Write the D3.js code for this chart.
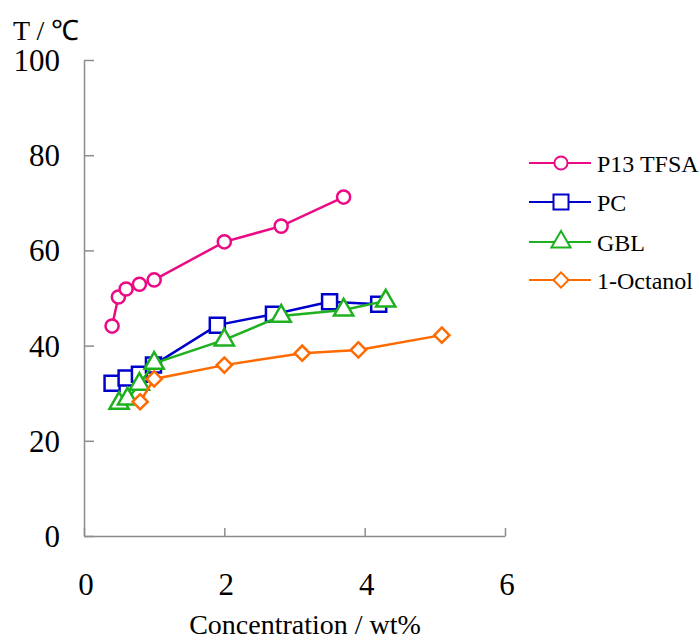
<!DOCTYPE html>
<head>
  <meta charset="utf-8">
  <script src="https://d3js.org/d3.v7.min.js"></script>
  <style>
    body { margin:0; background:#fff; }
    .axis path, .axis line { stroke:#8c8c8c; stroke-width:1.5; }
  </style>
</head>
<body>
<script>
// data
var seriesNames = ["P13 TFSA", "PC", "GBL", "1-Octanol"];
var p13X = [0.4, 0.49, 0.6, 0.79, 1.0, 2.0, 2.81, 3.7];
var p13Y = [44.1, 50.2, 51.9, 52.9, 53.8, 61.8, 65.1, 71.2];
var pcX = [0.4, 0.6, 0.79, 0.99, 1.9, 2.7, 3.5, 4.2];
var pcY = [32.1, 33.2, 34.0, 35.9, 44.3, 46.6, 49.2, 48.7];
var gblX = [0.5, 0.62, 0.79, 1.0, 2.0, 2.81, 3.7, 4.3];
var gblY = [27.9, 28.8, 31.9, 36.3, 41.2, 46.2, 47.5, 49.4];
var octX = [0.8, 1.0, 2.0, 3.11, 3.91, 5.1];
var octY = [28.2, 33.0, 35.9, 38.4, 39.1, 42.2];
var xTicks = [0, 2, 4, 6];
var yTicks = [0, 20, 40, 60, 80, 100];

var colors = ["#ec0a84", "#0000cc", "#1eb01e", "#ff6a00"];
var shapes = [d3.symbolCircle, d3.symbolSquare, d3.symbolTriangle, d3.symbolSquare];
var sizes = [135, 225, 160, 115];
var rot = [0, 0, 0, 45];
var serif = "'Liberation Serif', 'Times New Roman', serif";

var allX = [p13X, pcX, gblX, octX], allY = [p13Y, pcY, gblY, octY];
var series = seriesNames.map(function(n, i) {
  return { name: n, pts: allX[i].map(function(x, j) { return [x, allY[i][j]]; }) };
});

var W = 700, H = 641;
var svg = d3.select("body").append("svg").attr("width", W).attr("height", H);

var x = d3.scaleLinear().domain([0, 6]).range([84, 505]);
var y = d3.scaleLinear().domain([0, 100]).range([536, 60]);

// axes (ticks point inward)
svg.append("g").attr("class", "axis")
  .attr("transform", "translate(0,536)")
  .call(d3.axisTop(x).tickValues(xTicks).tickSize(8).tickSizeOuter(0).tickFormat(""));
svg.append("g").attr("class", "axis")
  .attr("transform", "translate(84,0)")
  .call(d3.axisRight(y).tickValues(yTicks).tickSize(10).tickSizeOuter(0).tickFormat(""));

svg.selectAll(".xl").data(xTicks).enter().append("text")
  .attr("x", function(d) { return x(d) + 2; })
  .attr("y", 595)
  .attr("text-anchor", "middle")
  .attr("font-family", serif).attr("font-size", 31)
  .text(function(d) { return d; });

svg.selectAll(".yl").data(yTicks).enter().append("text")
  .attr("x", 60)
  .attr("y", function(d) { return y(d) + 11; })
  .attr("text-anchor", "end")
  .attr("font-family", serif).attr("font-size", 31)
  .text(function(d) { return d; });

svg.append("text").attr("x", 305).attr("y", 634)
  .attr("text-anchor", "middle").attr("font-family", serif).attr("font-size", 28)
  .text("Concentration / wt%");
svg.append("text").attr("x", 13).attr("y", 40)
  .attr("font-family", serif).attr("font-size", 28)
  .text("T / \u2103");

var line = d3.line().x(function(d) { return x(d[0]); }).y(function(d) { return y(d[1]); });

function marker(sel, i, sw) {
  sel.attr("d", d3.symbol().type(shapes[i]).size(sizes[i]))
    .attr("fill", "#fff").attr("stroke", colors[i]).attr("stroke-width", sw);
}

series.forEach(function(s, i) {
  var g = svg.append("g");
  g.append("path").datum(s.pts).attr("d", line)
    .attr("fill", "none").attr("stroke", colors[i]).attr("stroke-width", 2.5);
  g.selectAll("path.m").data(s.pts).enter().append("path")
    .attr("class", "m")
    .attr("transform", function(d) {
      return "translate(" + x(d[0]) + "," + y(d[1]) + ") rotate(" + rot[i] + ")";
    })
    .call(marker, i, 2.5);
});

// legend
var legY = [163, 202, 242, 280];
series.forEach(function(s, i) {
  var g = svg.append("g").attr("transform", "translate(0," + legY[i] + ")");
  g.append("line").attr("x1", 529).attr("x2", 591)
    .attr("stroke", colors[i]).attr("stroke-width", 2);
  g.append("path").attr("transform", "translate(561,0) rotate(" + rot[i] + ")")
    .call(marker, i, 2);
  g.append("text").attr("x", 597).attr("y", 9)
    .attr("font-family", serif).attr("font-size", 24).text(s.name);
});
</script>
</body>
